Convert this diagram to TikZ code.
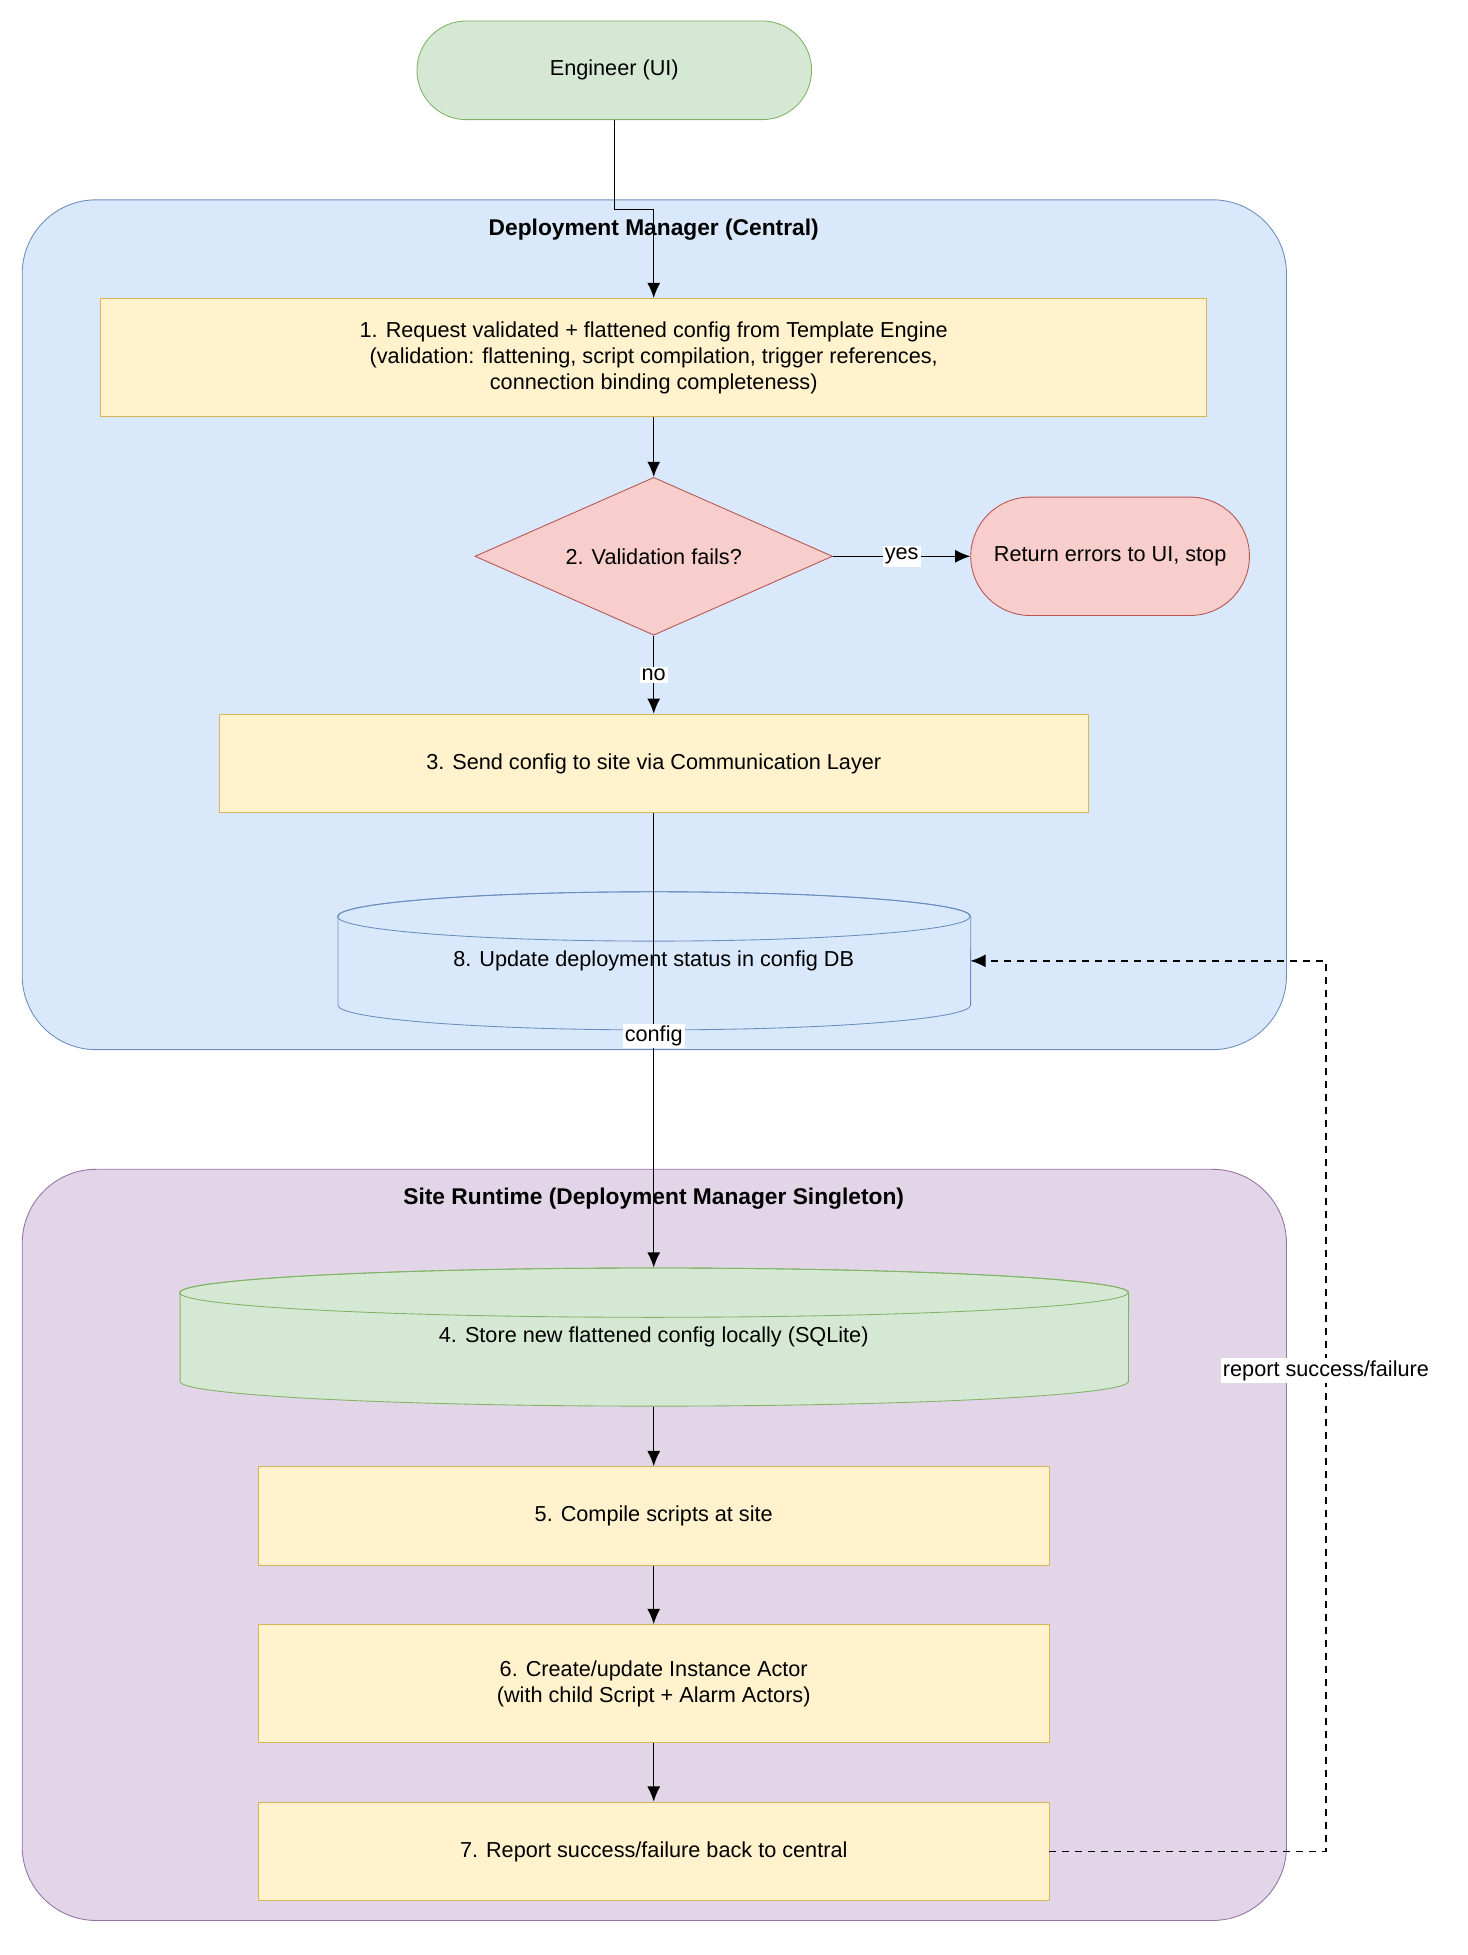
\documentclass[tikz,border=0pt]{standalone}
\usepackage{fontspec}
\setmainfont{Liberation Sans}
\usetikzlibrary{arrows.meta,positioning,shapes.geometric}
\definecolor{grnfill}{HTML}{D5E8D4}\definecolor{grnline}{HTML}{82B366}
\definecolor{bluefill}{HTML}{DAE8FC}\definecolor{blueline}{HTML}{6C8EBF}
\definecolor{yelfill}{HTML}{FFF2CC}\definecolor{yelline}{HTML}{D6B656}
\definecolor{redfill}{HTML}{F8CECC}\definecolor{redline}{HTML}{B85450}
\definecolor{purfill}{HTML}{E1D5E7}\definecolor{purline}{HTML}{9673A6}
\tikzset{
  txt/.style={font=\fontsize{10}{12}\selectfont, align=center},
  stepbox/.style={txt, draw=yelline, fill=yelfill, minimum height=1.6cm, inner sep=2pt},
  pill/.style={txt, draw=#1line, fill=#1fill, rounded corners=0.8cm, minimum height=1.6cm},
  group/.style={draw=#1line, fill=#1fill, rounded corners=1.2cm},
  title/.style={font=\fontsize{10.5}{12.5}\selectfont\bfseries},
  lbl/.style={txt, fill=white, inner sep=1pt},
  flow/.style={-{Latex[length=7pt,width=6pt]}, semithick},
}
\begin{document}
\begin{tikzpicture}[x=0.02cm, y=-0.02cm]
  \useasboundingbox (0,0) rectangle (1190,1585);
  % containers
  \draw[group=blue] (18,162) rectangle (1043,851);
  \node[title] (ttlc) at (530,186) {Deployment Manager (Central)};
  \draw[group=pur] (18,948) rectangle (1043,1557);
  \node[title] (ttls) at (530,972) {Site Runtime (Deployment Manager Singleton)};

  % central steps
  \node[pill=grn, minimum width=6.4cm] (eng) at (498,57) {Engineer (UI)};
  \node[stepbox, minimum width=17.94cm, minimum height=1.92cm] (req) at (530,290)
    {1. Request validated + flattened config from Template Engine\\(validation: flattening, script compilation, trigger references,\\connection binding completeness)};
  \node[txt, diamond, draw=redline, fill=redfill, minimum width=5.8cm, minimum height=2.56cm, aspect=2.27, inner sep=0pt] (fail) at (530,451) {2. Validation fails?};
  \node[pill=red, minimum width=4.52cm, minimum height=1.92cm, rounded corners=0.96cm] (err) at (900,451) {Return errors to UI, stop};
  \node[stepbox, minimum width=14.1cm] (send) at (530,619) {3. Send config to site via Communication Layer};

  % cylinder 8
  \draw[draw=blueline, fill=bluefill] (274,743) -- (274,815) arc[start angle=180, end angle=360, x radius=5.13cm, y radius=0.4cm] -- (787,743) arc[start angle=0, end angle=180, x radius=5.13cm, y radius=0.4cm] -- cycle;
  \draw[draw=blueline] (530,743) ellipse[x radius=5.13cm, y radius=0.4cm];
  \node[txt, minimum width=10.26cm, minimum height=2.24cm, inner sep=0pt] (stat) at (530,779) {8. Update deployment status in config DB};

  % cylinder 4
  \draw[draw=grnline, fill=grnfill] (146,1048) -- (146,1120) arc[start angle=180, end angle=360, x radius=7.69cm, y radius=0.4cm] -- (915,1048) arc[start angle=0, end angle=180, x radius=7.69cm, y radius=0.4cm] -- cycle;
  \draw[draw=grnline] (530,1048) ellipse[x radius=7.69cm, y radius=0.4cm];
  \node[txt, minimum width=15.38cm, minimum height=2.24cm, inner sep=0pt] (store) at (530,1084) {4. Store new flattened config locally (SQLite)};

  % site steps
  \node[stepbox, minimum width=12.82cm] (comp) at (530,1229) {5. Compile scripts at site};
  \node[stepbox, minimum width=12.82cm, minimum height=1.92cm] (act) at (530,1365) {6. Create/update Instance Actor\\(with child Script + Alarm Actors)};
  \node[stepbox, minimum width=12.82cm] (rep) at (530,1501) {7. Report success/failure back to central};

  % connectors
  \coordinate (bend) at (498,170);
  \draw[flow] (eng.south) -- (bend) -| (req.north);
  \draw[flow] (req) -- (fail);
  \draw[flow] (fail) -- node[lbl]{yes} (err);
  \draw[flow] (fail) -- node[lbl]{no} (send);
  \draw[flow] (send.south) -- node[lbl, pos=0.49]{config} (store.north);
  \draw[flow] (store.south) -- (comp);
  \draw[flow] (comp) -- (act);
  \draw[flow] (act) -- (rep);
  \coordinate (back) at (1075,1501);
  \draw[flow, dashed] (rep.east) -- (back) |- node[lbl, pos=0.27]{report success/failure} (stat.east);
\end{tikzpicture}
\end{document}
